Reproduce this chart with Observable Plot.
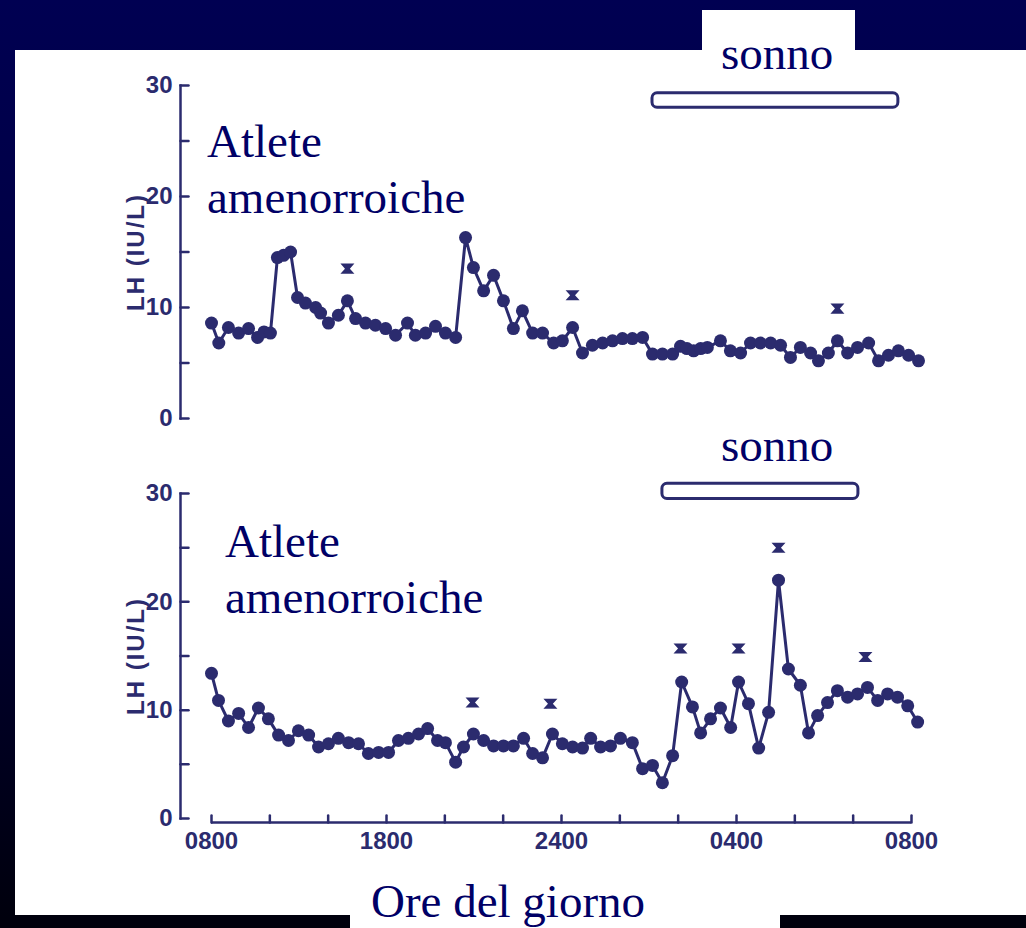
<!DOCTYPE html>
<html><head><meta charset="utf-8">
<script src="https://cdn.jsdelivr.net/npm/d3@7"></script>
<script src="https://cdn.jsdelivr.net/npm/@observablehq/plot@0.6"></script>
<style>
html,body{margin:0;padding:0;}
body{width:1026px;height:928px;overflow:hidden;position:relative;background:linear-gradient(180deg,#000052 0%,#000038 55%,#00000c 100%);}
.panel{position:absolute;left:15px;top:50px;width:1011px;height:865px;background:#fff;}
.box1{position:absolute;left:702px;top:10px;width:153px;height:45px;background:#fff;}
.box2{position:absolute;left:350px;top:868px;width:430px;height:60px;background:#fff;}
.chart{position:absolute;left:0;}
.ann{position:absolute;font-family:"Liberation Serif","Times New Roman",serif;font-size:47px;color:#000066;white-space:nowrap;line-height:47px;}
.ann2{line-height:56px;}
g[aria-label="y-axis label"] text{letter-spacing:2px;}
</style></head><body>
<div class="panel"></div>
<div class="box1"></div>
<div class="box2"></div>
<div id="top" class="chart" style="top:0px"></div>
<div id="bot" class="chart" style="top:440px"></div>
<div class="ann" style="left:721px;top:30px">sonno</div>
<div class="ann" style="left:721px;top:422px">sonno</div>
<div class="ann ann2" style="left:207px;top:113px">Atlete<br>amenorroiche</div>
<div class="ann ann2" style="left:225px;top:513px">Atlete<br>amenorroiche</div>
<div class="ann" style="left:371px;top:878px">Ore del giorno</div>
<script>
// ---- data (hours after 08:00, LH IU/L) ----
const topTimes = [0,0.25,0.58,0.93,1.27,1.58,1.8,2.02,2.26,2.47,2.71,2.95,3.22,3.57,3.74,4.01,4.35,4.66,4.94,5.28,5.62,5.97,6.31,6.72,6.99,7.34,7.68,8.02,8.37,8.71,8.98,9.33,9.67,10.01,10.35,10.66,11.01,11.35,11.73,12.03,12.38,12.72,13.06,13.41,13.75,14.09,14.43,14.78,15.12,15.46,15.81,16.08,16.3,16.53,16.77,17.0,17.45,17.79,18.14,18.48,18.82,19.17,19.51,19.85,20.19,20.54,20.81,21.15,21.46,21.81,22.15,22.53,22.87,23.21,23.55,23.9,24.24];
const topLH = [8.6,6.8,8.2,7.7,8.1,7.3,7.8,7.7,14.5,14.7,15.0,10.9,10.4,10.0,9.5,8.6,9.3,10.6,9.0,8.6,8.4,8.1,7.5,8.6,7.5,7.7,8.3,7.7,7.3,16.3,13.6,11.5,12.9,10.6,8.1,9.7,7.7,7.7,6.8,7.0,8.2,5.9,6.6,6.8,7.0,7.2,7.2,7.3,5.8,5.8,5.8,6.5,6.3,6.1,6.3,6.4,7.0,6.1,5.9,6.8,6.8,6.8,6.6,5.5,6.4,5.9,5.2,5.9,7.0,5.9,6.4,6.8,5.2,5.7,6.1,5.7,5.2];
const topStarTimes = [4.66,12.38,21.46];
const topStarLH = [13.5,11.1,9.9];

const botTimes = [0,0.24,0.58,0.93,1.27,1.61,1.95,2.3,2.64,2.98,3.33,3.67,4.01,4.35,4.7,5.04,5.38,5.73,6.07,6.41,6.75,7.1,7.41,7.75,8.02,8.37,8.64,8.98,9.33,9.67,10.01,10.35,10.7,11.01,11.35,11.69,12.03,12.38,12.72,13.0,13.34,13.68,14.02,14.43,14.78,15.12,15.46,15.81,16.12,16.49,16.77,17.11,17.45,17.8,18.07,18.41,18.76,19.1,19.44,19.78,20.19,20.47,20.78,21.12,21.46,21.81,22.15,22.49,22.84,23.18,23.52,23.87,24.21];
const botLH = [13.4,10.9,9.0,9.7,8.4,10.2,9.2,7.7,7.2,8.1,7.7,6.6,6.9,7.4,7.0,6.9,6.0,6.1,6.1,7.2,7.4,7.8,8.3,7.2,7.0,5.2,6.6,7.8,7.2,6.7,6.7,6.7,7.4,6.0,5.6,7.8,6.9,6.6,6.5,7.4,6.6,6.7,7.4,7.0,4.6,4.9,3.3,5.8,12.6,10.3,7.9,9.2,10.2,8.4,12.6,10.6,6.5,9.8,22.0,13.8,12.3,7.9,9.5,10.7,11.8,11.2,11.5,12.1,10.9,11.5,11.2,10.4,8.9];
const botStarTimes = [8.95,11.62,16.08,18.07,19.44,22.42];
const botStarLH = [10.7,10.6,15.7,15.7,25.0,14.9];

const topSleep = {start: 15.12, end: 23.55, low: 28.0, high: 29.3};
const botSleep = {start: 15.46, end: 22.18, low: 29.5, high: 30.9};

const yTickValues = [0,5,10,15,20,25,30];
const yLabelValues = [0,10,20,30];
const xTickValues = [0,2,4,6,8,10,12,14,16,18,20,22,24];
const xLabelValues = [0,6,12,18,24];
const xLabels = ["0800","1800","2400","0400","0800"];
const yTitle = "LH (IU/L)";

// ---- drawing ----
const navy = "#2b2b6e";
const hourglass = {draw(ctx, size){
  const r = Math.sqrt(size/Math.PI), h = r*0.72;
  ctx.moveTo(-r,-h); ctx.lineTo(r,-h); ctx.lineTo(r*0.35,0); ctx.lineTo(r,h);
  ctx.lineTo(-r,h); ctx.lineTo(-r*0.35,0); ctx.closePath();
}};
const tickShape = {draw(ctx, l){ ctx.moveTo(0,0); ctx.lineTo(0,-l); }};

function makePanel({times, values, starT, starV, sleep, height, marginTop, marginBottom, showX}) {
  const pts = times.map((t,i)=>({t, v: values[i]}));
  const stars = starT.map((t,i)=>({t, v: starV[i]}));
  const marks = [
    Plot.frame({anchor:"left", stroke: navy, strokeWidth: 2.5}),
    Plot.vector(yTickValues, {y: d=>d, frameAnchor:"left", rotate: 90, length: 8, anchor:"start", shape: tickShape, stroke: navy, strokeWidth: 2.5}),
    Plot.axisY({ticks: yLabelValues, tickSize: 0, tickPadding: 8, fontSize: 24, fontWeight: "bold", fill: navy,
      label: yTitle, labelAnchor: "center", labelOffset: 54, labelArrow: false}),
    Plot.rect([sleep], {x1:"start", x2:"end", y1:"low", y2:"high", fill:"white", stroke: navy, strokeWidth: 3, rx: 5}),
    Plot.line(pts, {x:"t", y:"v", stroke: navy, strokeWidth: 3}),
    Plot.dot(pts, {x:"t", y:"v", r: 6.5, fill: navy}),
    Plot.dot(stars, {x:"t", y:"v", r: 7, symbol: hourglass, fill: navy})
  ];
  if (showX) {
    marks.push(
      Plot.ruleY([0], {x1: 0, x2: 24, dy: 4, stroke: navy, strokeWidth: 2.5}),
      Plot.vector(xTickValues, {x: d=>d, frameAnchor:"bottom", length: 7, anchor:"start", shape: tickShape, dy: 4, stroke: navy, strokeWidth: 2.5}),
      Plot.axisX({ticks: xLabelValues, tickFormat: d => xLabels[xLabelValues.indexOf(d)], tickSize: 0, tickPadding: 13,
        fontSize: 24, fontWeight: "bold", fill: navy, label: null})
    );
  }
  return Plot.plot({
    width: 1026, height, marginLeft: 180, marginRight: 115, marginTop, marginBottom,
    x: {domain: [0, 24], range: [211, 911], axis: showX ? undefined : null},
    y: {domain: [0, 30]},
    style: {background: "transparent", fontFamily: "'Liberation Sans', Arial, sans-serif", overflow: "visible"},
    marks
  });
}

document.getElementById("top").append(makePanel({times: topTimes, values: topLH, starT: topStarTimes, starV: topStarLH,
  sleep: topSleep, height: 440, marginTop: 85, marginBottom: 22, showX: false}));
document.getElementById("bot").append(makePanel({times: botTimes, values: botLH, starT: botStarTimes, starV: botStarLH,
  sleep: botSleep, height: 440, marginTop: 53, marginBottom: 62, showX: true}));
</script>
</body></html>
